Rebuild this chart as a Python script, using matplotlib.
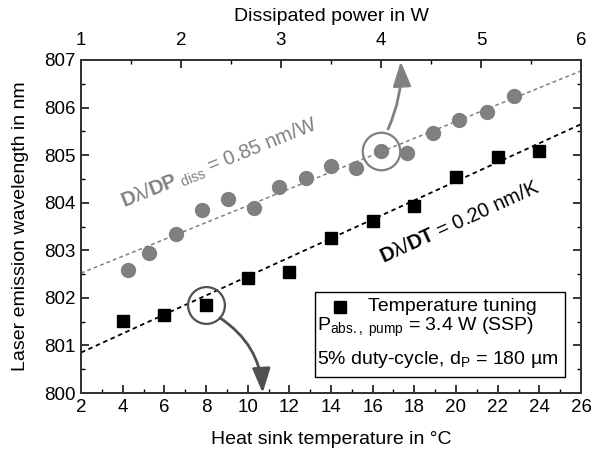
import matplotlib
matplotlib.use("Agg")
import matplotlib.pyplot as plt
import numpy as np
from matplotlib.patches import FancyArrowPatch, Rectangle

plt.rcParams['font.family'] = ['Liberation Sans', 'DejaVu Sans']
plt.rcParams['mathtext.fontset'] = 'custom'
plt.rcParams['mathtext.rm'] = 'Liberation Sans'
plt.rcParams['mathtext.it'] = 'Liberation Sans:italic'
plt.rcParams['mathtext.bf'] = 'Liberation Sans:bold'

# Temperature tuning (bottom axis)
temp_C = [4, 6, 8, 10, 12, 14, 16, 18, 20, 22, 24]
temp_wl = [801.51, 801.65, 801.85, 802.41, 802.55, 803.26, 803.62, 803.94, 804.54, 804.97, 805.09]
temp_fit_intercept = 800.85   # at 2 °C
temp_fit_slope = 0.20         # nm/K

# Dissipated power tuning (top axis)
pdiss_W = [1.47, 1.68, 1.95, 2.21, 2.47, 2.73, 2.98, 3.25, 3.50, 3.75, 4.00, 4.26, 4.52, 4.78, 5.06, 5.33]
pdiss_wl = [802.59, 802.94, 803.34, 803.85, 804.08, 803.88, 804.34, 804.53, 804.78, 804.72, 805.09, 805.04, 805.46, 805.74, 805.91, 806.24]
p_fit_intercept = 802.52      # at 1 W
p_fit_slope = 0.85            # nm/W

bottom_ticks = [2, 4, 6, 8, 10, 12, 14, 16, 18, 20, 22, 24, 26]
top_ticks = [1, 2, 3, 4, 5, 6]
y_ticks = [800, 801, 802, 803, 804, 805, 806, 807]

GRAY = '#808080'
DARK = '#505050'

fig = plt.figure(figsize=(5.91, 4.55), dpi=100)
ax = fig.add_axes([81/591, 1-393/455, 500/591, 333/455])
ax2 = ax.twiny()

ax.set_xlim(2, 26)
ax.set_ylim(800, 807)
ax2.set_xlim(1, 6)

# fit lines
tx = np.array([2, 26])
ax.plot(tx, temp_fit_intercept + temp_fit_slope*(tx-2), color='black', lw=1.3,
        ls=(0, (2.5, 2)), zorder=2)
px = np.array([1, 6])
ax2.plot(px, p_fit_intercept + p_fit_slope*(px-1), color=GRAY, lw=1.1,
         ls=(0, (2.5, 2)), zorder=2)

ax.plot(temp_C, temp_wl, 's', color='black', ms=8.5, zorder=3)
ax2.plot(pdiss_W, pdiss_wl, 'o', color=GRAY, mec=GRAY, ms=10, zorder=3)

# highlight circles
ax.plot([temp_C[2]], [temp_wl[2]], 'o', mfc='none', mec=DARK, ms=26.5, mew=1.6, zorder=4)
ax2.plot([pdiss_W[10]], [pdiss_wl[10]], 'o', mfc='none', mec=GRAY, ms=27, mew=1.6, zorder=4)

# arrows
a1 = FancyArrowPatch((8.67, 801.58), (10.72, 800.0), connectionstyle='arc3,rad=-0.25',
                     arrowstyle='-|>,head_length=15,head_width=5.5', color=DARK, lw=2.0,
                     shrinkA=0, shrinkB=0, zorder=4, clip_on=False)
ax.add_patch(a1)
a2 = FancyArrowPatch((16.74, 805.55), (17.35, 806.97), connectionstyle='arc3,rad=0.12',
                     arrowstyle='-|>,head_length=15,head_width=5.5', color=GRAY, lw=2.0,
                     shrinkA=0, shrinkB=0, zorder=4, clip_on=False)
ax.add_patch(a2)

# slope labels
ax.text(8.62, 804.83, r'$\mathbf{D}$λ/$\mathbf{DP}_{\rm\ diss}$ = 0.85 nm/W', color=GRAY,
        fontsize=14.5, rotation=22, ha='center', va='center', rotation_mode='anchor')
ax.text(20.2, 803.58, r'$\mathbf{D}$λ/$\mathbf{DT}$ = 0.20 nm/K', color='black',
        fontsize=14.5, rotation=24.5, ha='center', va='center', rotation_mode='anchor')

# legend box
ax.add_patch(Rectangle((0.468, 0.049), 0.5, 0.255, transform=ax.transAxes, fill=True,
                       facecolor='white', edgecolor='black', lw=1.0, zorder=5))
ax.plot([0.518], [0.259], 's', color='black', ms=8.5, transform=ax.transAxes, zorder=6)
ax.text(0.574, 0.259, 'Temperature tuning', transform=ax.transAxes, fontsize=14,
        ha='left', va='center', zorder=6)
ax.text(0.472, 0.198, r'P$_{\rm abs.,\ pump}$ = 3.4 W (SSP)', transform=ax.transAxes,
        fontsize=14, ha='left', va='center', zorder=6)
ax.text(0.472, 0.102, r'5% duty-cycle, d$_{\rm P}$ = 180 µm', transform=ax.transAxes,
        fontsize=14, ha='left', va='center', zorder=6)

# ticks
ax.set_xticks(bottom_ticks)
ax.set_xticks(np.arange(2, 27, 1), minor=True)
ax.set_yticks(y_ticks)
ax.set_yticks(np.arange(800, 807.01, 0.5), minor=True)
ax2.set_xticks(top_ticks)
ax2.set_xticks(np.arange(1, 6.01, 0.5), minor=True)

for a in (ax, ax2):
    a.tick_params(which='major', direction='in', length=6, width=1.1, labelsize=13.5, pad=4)
    a.tick_params(which='minor', direction='in', length=3, width=1.0)
    for s in a.spines.values():
        s.set_linewidth(1.4)
        s.set_color('#333333')
ax.tick_params(which='both', right=True, top=False)
ax2.tick_params(which='both', top=True, bottom=False)
ax2.tick_params(which='major', pad=8)

ax.set_xlabel('Heat sink temperature in °C', fontsize=14, labelpad=11)
ax.set_ylabel('Laser emission wavelength in nm', fontsize=14, labelpad=11)
ax2.set_xlabel('Dissipated power in W', fontsize=14, labelpad=7.5)

fig.savefig('out.png', dpi=100)
